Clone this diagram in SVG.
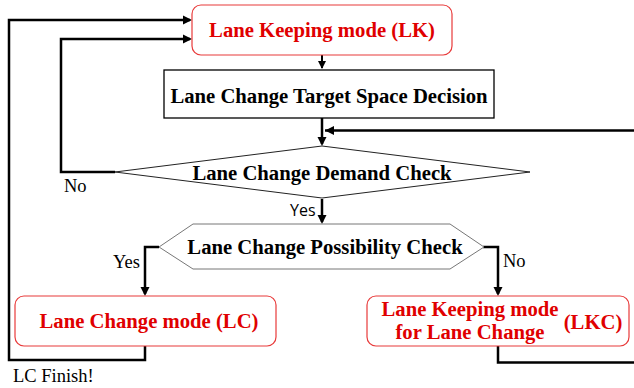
<svg xmlns="http://www.w3.org/2000/svg" width="634" height="388" viewBox="0 0 634 388">
<defs>
<style>
.conn{fill:none;stroke:#000;stroke-width:2.5}
.red{fill:#fff;stroke:#e83a3a;stroke-width:1.2}
.rt{font-family:"Liberation Serif","Times New Roman",serif;font-weight:bold;font-size:20.7px;fill:#e00000;text-anchor:middle}
.bt{font-family:"Liberation Serif","Times New Roman",serif;font-weight:bold;font-size:20.7px;fill:#000;text-anchor:middle}
.lbl{font-family:"Liberation Serif","Times New Roman",serif;font-size:18.5px;fill:#000}
.sl{font-family:"Open Sans","Noto Sans",sans-serif;font-size:16px;fill:#000}
</style>
</defs>
<rect width="634" height="388" fill="#fff"/>
<g id="connectors">
<polyline class="conn" points="322,55 322,68" style="stroke-width:2"/>
<polyline class="conn" points="322,118 322,144"/>
<polyline class="conn" points="634,130.5 325,130.5"/>
<polyline class="conn" points="115,172 61,172 61,39 190,39"/>
<polyline class="conn" points="145,346 145,360 9,360 9,20 190,20"/>
<polyline class="conn" points="322,199 322,222"/>
<polyline class="conn" points="159,247 145,247 145,294"/>
<polyline class="conn" points="483,247 498,247 498,294"/>
<polyline class="conn" points="498,346 498,362.5 634,362.5"/>
</g>
<g id="arrowheads">
<path d="M318,61 L326,61 L322,69 Z"/>
<path d="M317.5,137 L326.5,137 L322,146 Z"/>
<path d="M334,126 L334,135 L325,130.5 Z"/>
<path d="M183,34.5 L183,43.5 L192,39 Z"/>
<path d="M183,15.5 L183,24.5 L192,20 Z"/>
<path d="M317.5,215 L326.5,215 L322,224 Z"/>
<path d="M140.5,287 L149.5,287 L145,296 Z"/>
<path d="M493.5,287 L502.5,287 L498,296 Z"/>
</g>
<g id="lk">
<rect class="red" x="192" y="5" width="260" height="50" rx="9"/>
<text class="rt" x="322" y="37">Lane Keeping mode (LK)</text>
</g>
<g id="target">
<rect x="164" y="70" width="330" height="48" fill="#fff" stroke="#000" stroke-width="1.3"/>
<text class="bt" x="329" y="103">Lane Change Target Space Decision</text>
</g>
<g id="demand">
<polygon points="115,172 322,146 530,172 322,198" fill="#fff" stroke="#222" stroke-width="1"/>
<text class="bt" x="322" y="180">Lane Change Demand Check</text>
<text class="lbl" x="64" y="192">No</text>
<text class="sl" x="290" y="216">Yes</text>
</g>
<g id="possibility">
<polygon points="159,247 193,224 450,224 484,247 450,269 193,269" fill="#fff" stroke="#777" stroke-width="1"/>
<text class="bt" x="325" y="254">Lane Change Possibility Check</text>
<text class="lbl" x="113" y="268">Yes</text>
<text class="lbl" x="503" y="267">No</text>
</g>
<g id="lc">
<rect class="red" x="15" y="296" width="261" height="50" rx="9"/>
<text class="rt" x="149" y="328">Lane Change mode (LC)</text>
<text class="lbl" x="13" y="382">LC Finish!</text>
</g>
<g id="lkc">
<rect class="red" x="367" y="296" width="262" height="50" rx="9"/>
<text class="rt" x="470" y="316">Lane Keeping mode</text>
<text class="rt" x="470" y="339">for Lane Change</text>
<text class="rt" x="593" y="329">(LKC)</text>
</g>
</svg>
